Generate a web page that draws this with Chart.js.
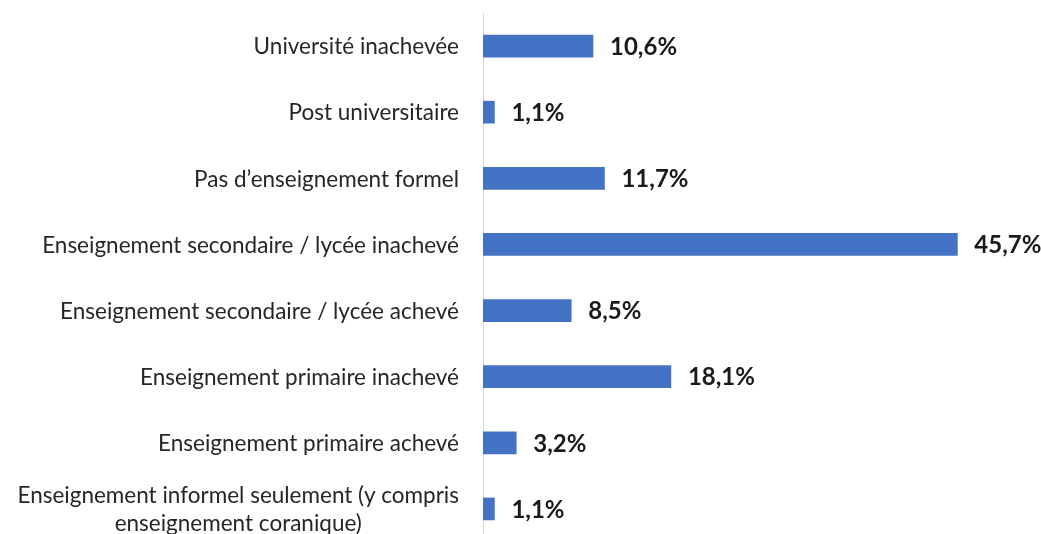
<!DOCTYPE html>
<html lang="fr">
<head>
<meta charset="utf-8">
<title>Niveau d'instruction</title>
<script src="https://cdn.jsdelivr.net/npm/chart.js@4.4.0/dist/chart.umd.min.js"></script>
<style>
  html, body { margin: 0; padding: 0; background: #fff; overflow: hidden; }
  #wrap { width: 1041px; height: 542px; position: relative; }
</style>
</head>
<body>
<div id="wrap"><canvas id="chart"></canvas></div>
<script>
// catégories (de haut en bas) et pourcentages
const categories = [
  ['Université inachevée'],
  ['Post universitaire'],
  ['Pas d\u2019enseignement formel'],
  ['Enseignement secondaire / lycée inachevé'],
  ['Enseignement secondaire / lycée achevé'],
  ['Enseignement primaire inachevé'],
  ['Enseignement primaire achevé'],
  ['Enseignement informel seulement (y compris', 'enseignement coranique)']
];
const values = [10.6, 1.1, 11.7, 45.7, 8.5, 18.1, 3.2, 1.1];
const valueLabels = ['10,6%', '1,1%', '11,7%', '45,7%', '8,5%', '18,1%', '3,2%', '1,1%'];

const FONT = 'Lato, "Open Sans", sans-serif';

// étiquettes des catégories, lignes centrées entre elles
const categoryLabels = {
  id: 'categoryLabels',
  afterDraw(chart) {
    const ctx = chart.ctx;
    const yScale = chart.scales.y;
    const right = chart.chartArea.left - 24;
    ctx.save();
    ctx.font = '22.5px ' + FONT;
    ctx.fillStyle = '#262626';
    ctx.textBaseline = 'middle';
    ctx.textAlign = 'center';
    const lh = 28;
    categories.forEach((lines, i) => {
      const y = yScale.getPixelForValue(i);
      const w = Math.max(...lines.map(l => ctx.measureText(l).width));
      const cx = right - w / 2;
      const y0 = y + 1 - (lines.length - 1) * lh / 2;
      lines.forEach((l, j) => ctx.fillText(l, cx, y0 + j * lh));
    });
    ctx.restore();
  }
};

// valeurs en gras au bout des barres
const valueTags = {
  id: 'valueTags',
  afterDatasetsDraw(chart) {
    const ctx = chart.ctx;
    const meta = chart.getDatasetMeta(0);
    ctx.save();
    ctx.font = 'bold 24px ' + FONT;
    ctx.fillStyle = '#1a1a1a';
    ctx.textBaseline = 'middle';
    ctx.textAlign = 'left';
    meta.data.forEach((bar, i) => {
      ctx.fillText(valueLabels[i], bar.x + 17, bar.y + 1);
    });
    ctx.restore();
  }
};

new Chart(document.getElementById('chart'), {
  type: 'bar',
  data: {
    labels: categories.map(c => c.join(' ')),
    datasets: [{
      data: values,
      backgroundColor: '#4472C4',
      barThickness: 22
    }]
  },
  options: {
    indexAxis: 'y',
    responsive: true,
    maintainAspectRatio: false,
    animation: false,
    layout: { padding: { top: 13, right: 39, bottom: 0, left: 0 } },
    plugins: { legend: { display: false }, tooltip: { enabled: false } },
    scales: {
      x: { display: false, min: 0, max: 50 },
      y: {
        grid: { display: false },
        border: { display: true, color: '#d9d9d9', width: 1 },
        ticks: { display: false },
        afterFit(scale) { scale.width = 483; }
      }
    }
  },
  plugins: [categoryLabels, valueTags]
});
</script>
</body>
</html>
